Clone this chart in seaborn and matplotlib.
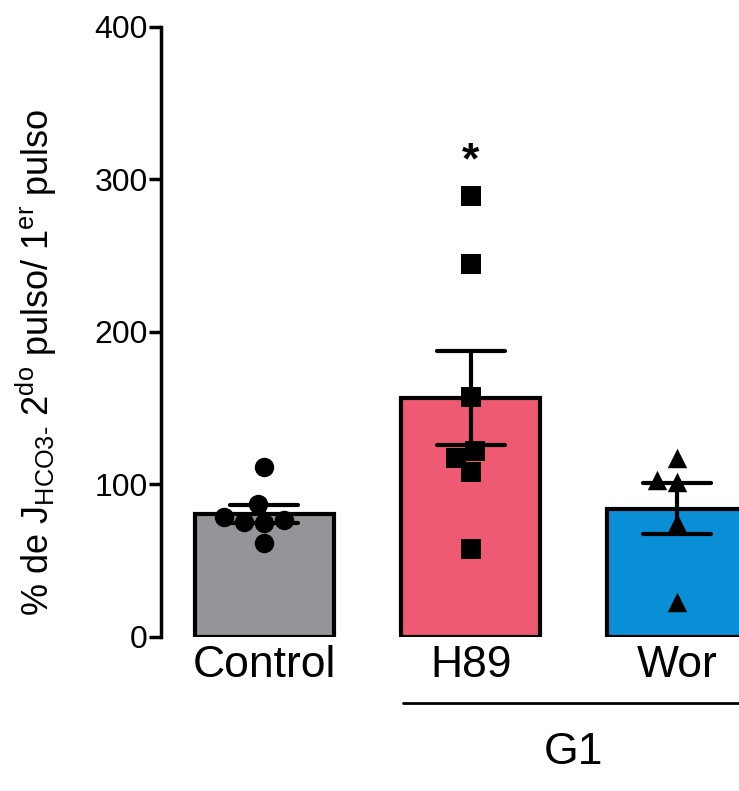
import numpy as np
import pandas as pd
import seaborn as sns
import matplotlib.pyplot as plt

# values
groups = ['Control', 'H89', 'Wor']
control_vals = [111.5, 87.0, 75.4, 74.8, 78.7, 76.7, 61.6]
h89_vals = [289.2, 244.4, 157.2, 117.2, 122.2, 108.4, 57.5]
wor_vals = [117.4, 101.6, 103.0, 74.8, 23.0]
bar_colors = ['#939598', '#EE5A72', '#0A8ED6']
point_markers = ['o', 's', '^']

df = pd.DataFrame({
    'group': ['Control'] * len(control_vals) + ['H89'] * len(h89_vals) + ['Wor'] * len(wor_vals),
    'value': control_vals + h89_vals + wor_vals,
})

sns.set_style('ticks')
plt.rcParams['font.family'] = ['Liberation Sans', 'DejaVu Sans']
plt.rcParams['text.color'] = 'black'
plt.rcParams['axes.labelcolor'] = 'black'
plt.rcParams['xtick.color'] = 'black'
plt.rcParams['ytick.color'] = 'black'
plt.rcParams['axes.edgecolor'] = 'black'

fig = plt.figure(figsize=(7.39, 7.91), dpi=100)
ax = fig.add_axes([0.218, 0.1947, 0.782, 0.7712])

sns.barplot(data=df, x='group', y='value', order=groups, hue='group', palette=bar_colors,
            saturation=1, errorbar='se', capsize=0.33, width=0.676, edgecolor='black', linewidth=3,
            err_kws={'color': 'black', 'linewidth': 3}, legend=False, ax=ax, zorder=1)

for g, m in zip(groups, point_markers):
    sns.swarmplot(data=df[df['group'] == g], x='group', y='value', order=groups,
                  color='black', marker=m, size=14, ax=ax, zorder=3)

ax.set_ylim(0, 400)
ax.set_xlim(-0.5, 2.3)
ax.set_yticks([0, 100, 200, 300, 400])
ax.tick_params(axis='y', labelsize=23, length=8.5, width=2.5, pad=1)
ax.tick_params(axis='x', labelsize=32, length=0, pad=6)
sns.despine(ax=ax, bottom=True)
ax.spines['left'].set_linewidth(2.5)
ax.set_xlabel('')
ax.set_ylabel('% de J$_{\\mathregular{HCO3\u2010}}$ 2$^{\\mathregular{do}}$ pulso/ 1$^{\\mathregular{er}}$ pulso',
              fontsize=26)
ax.yaxis.set_label_coords(-0.176, 0.45)

# significance mark
ax.text(1, 304, '*', ha='center', va='baseline', fontsize=32, fontweight='bold')

# G1 bracket under H89 and Wor
trans = ax.get_xaxis_transform()
ax.plot([0.67, 2.3], [-0.108, -0.108], color='black', linewidth=2, transform=trans, clip_on=False)
ax.text(1.5, -0.19, 'G1', ha='center', va='center', fontsize=32, transform=trans)

fig.savefig('out.png', dpi=100)
